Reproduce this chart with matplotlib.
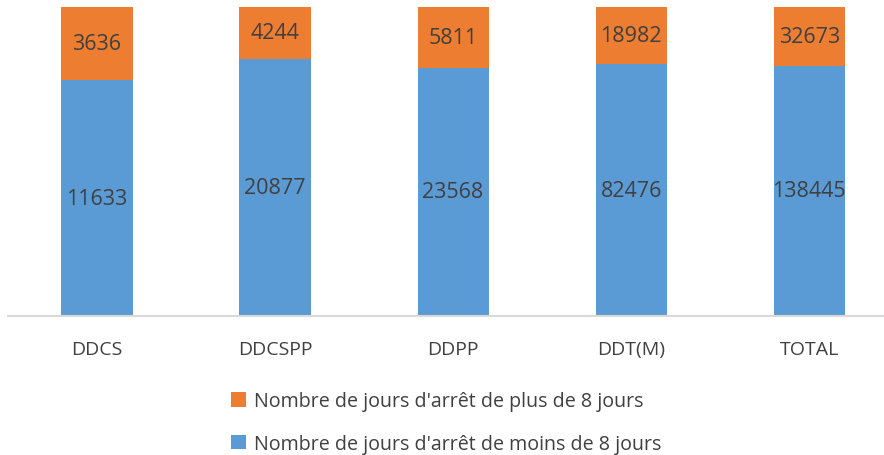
import numpy as np
import matplotlib.pyplot as plt

# Données
categories = ['DDCS', 'DDCSPP', 'DDPP', 'DDT(M)', 'TOTAL']
moins_8 = [11633, 20877, 23568, 82476, 138445]
plus_8 = [3636, 4244, 5811, 18982, 32673]
label_moins = "Nombre de jours d'arrêt de moins de 8 jours"
label_plus = "Nombre de jours d'arrêt de plus de 8 jours"

plt.rcParams['font.family'] = ['Open Sans', 'DejaVu Sans']
txt = '#404040'

a = np.array(moins_8, dtype=float)
b = np.array(plus_8, dtype=float)
tot = a + b
pa = a / tot * 100
pb = b / tot * 100

fig = plt.figure(figsize=(8.84, 4.56), dpi=100)
ax = fig.add_axes([8 / 884, 1 - 317 / 456, 1 - 8 / 884, (317 - 7.5) / 456])

x = np.arange(len(categories))
w = 0.4
ba = ax.bar(x, pa, w, color='#5B9BD5', label=label_moins)
bb = ax.bar(x, pb, w, bottom=pa, color='#ED7D31', label=label_plus)

for i in range(len(x)):
    ax.text(x[i], pa[i] / 2, str(moins_8[i]), ha='center', va='center', fontsize=15.5, color=txt)
    ax.text(x[i], pa[i] + pb[i] / 2, str(plus_8[i]), ha='center', va='center', fontsize=15.5, color=txt)

ax.set_xlim(-0.5, 4.42)
ax.set_ylim(0, 100)
ax.set_yticks([])
for s in ['top', 'right', 'left']:
    ax.spines[s].set_visible(False)
ax.spines['bottom'].set_color('#D9D9D9')
ax.spines['bottom'].set_linewidth(1.5)
ax.set_xticks(x)
ax.set_xticklabels(categories, fontsize=14, color=txt)
ax.tick_params(axis='x', length=0, pad=17)

h = [bb, ba]
fig.legend(h, [label_plus, label_moins], loc='upper center', bbox_to_anchor=(0.505, 0.157), ncol=1,
           frameon=False, fontsize=14.1, labelcolor=txt, handlelength=0.75, handleheight=0.75,
           handletextpad=0.45, labelspacing=1.15, borderaxespad=0)

fig.savefig('out.png', dpi=100)
